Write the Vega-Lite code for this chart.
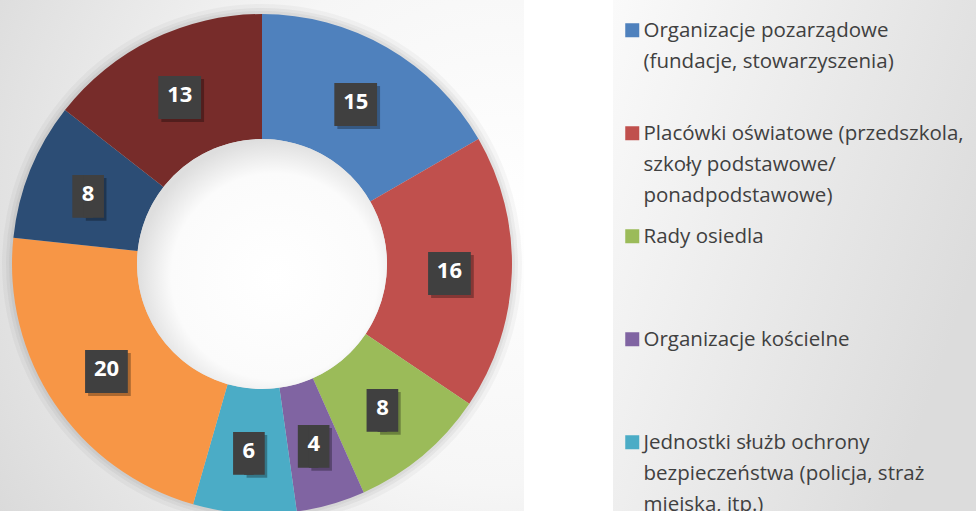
{
  "$schema": "https://vega.github.io/schema/vega-lite/v6.json",
  "padding": 0,
  "background": "white",
  "spacing": 89,
  "config": {
    "view": {"stroke": null},
    "style": {"guide-label": {"lineHeight": 31, "dy": -9}}
  },
  "data": {
    "values": [
      {"kategoria": "Organizacje pozarządowe (fundacje, stowarzyszenia)", "liczba": 15, "kolejnosc": 1},
      {"kategoria": "Placówki oświatowe (przedszkola, szkoły podstawowe/ponadpodstawowe)", "liczba": 16, "kolejnosc": 2},
      {"kategoria": "Rady osiedla", "liczba": 8, "kolejnosc": 3},
      {"kategoria": "Organizacje kościelne", "liczba": 4, "kolejnosc": 4},
      {"kategoria": "Jednostki służb ochrony bezpieczeństwa (policja, straż miejska, itp.)", "liczba": 6, "kolejnosc": 5},
      {"kategoria": "Instytucje kultury", "liczba": 20, "kolejnosc": 6},
      {"kategoria": "Przedsiębiorcy", "liczba": 8, "kolejnosc": 7},
      {"kategoria": "Inne", "liczba": 13, "kolejnosc": 8}
    ]
  },
  "resolve": {"scale": {"color": "shared"}, "legend": {"color": "shared"}},
  "hconcat": [
    {
      "width": 524,
      "height": 528,
      "layer": [
        {
          "data": {"values": [{}]},
          "mark": {
            "type": "rect",
            "fill": {"gradient": "radial", "x1": 0.95, "y1": 0.4, "x2": 0.95, "y2": 0.4, "r1": 0, "r2": 1.15,
              "stops": [{"offset": 0, "color": "#ffffff"}, {"offset": 0.45, "color": "#f6f6f6"}, {"offset": 1, "color": "#d8d8d8"}]}
          }
        },
        {
          "data": {"values": [{}]},
          "mark": {"type": "arc", "outerRadius": 260, "innerRadius": 0, "fill": "#000000", "opacity": 0.03}
        },
        {
          "data": {"values": [{}]},
          "mark": {"type": "arc", "outerRadius": 256, "innerRadius": 0, "fill": "#000000", "opacity": 0.04}
        },
        {
          "data": {"values": [{}]},
          "mark": {"type": "arc", "outerRadius": 253, "innerRadius": 0, "fill": "#000000", "opacity": 0.04}
        },
        {
          "mark": {"type": "arc", "outerRadius": 250, "innerRadius": 125, "stroke": null},
          "encoding": {
            "theta": {"field": "liczba", "type": "quantitative", "stack": true},
            "order": {"field": "kolejnosc", "type": "quantitative"},
            "color": {
              "field": "kategoria", "type": "nominal", "sort": null,
              "scale": {
                "domain": [
                  "Organizacje pozarządowe (fundacje, stowarzyszenia)",
                  "Placówki oświatowe (przedszkola, szkoły podstawowe/ponadpodstawowe)",
                  "Rady osiedla",
                  "Organizacje kościelne",
                  "Jednostki służb ochrony bezpieczeństwa (policja, straż miejska, itp.)",
                  "Instytucje kultury",
                  "Przedsiębiorcy",
                  "Inne"
                ],
                "range": ["#4F81BD", "#C0504D", "#9BBB59", "#8064A2", "#4BACC6", "#F79646", "#2C4D75", "#772C2A"]
              },
              "legend": {
                "title": null,
                "orient": "none",
                "legendX": 610,
                "legendY": 8,
                "padding": 12,
                "symbolType": "square",
                "symbolSize": 196,
                "symbolStrokeWidth": 0,
                "labelFont": "Open Sans",
                "labelFontSize": 20.5,
                "labelColor": "#404040",
                "labelOffset": 1,
                "labelLimit": 500,
                "labelBaseline": "top",
                "gridAlign": "all",
                "rowPadding": 19,
                "labelExpr": "datum.label == 'Organizacje pozarządowe (fundacje, stowarzyszenia)' ? ['Organizacje pozarządowe', '(fundacje, stowarzyszenia)'] : datum.label == 'Placówki oświatowe (przedszkola, szkoły podstawowe/ponadpodstawowe)' ? ['Placówki oświatowe (przedszkola,', 'szkoły podstawowe/', 'ponadpodstawowe)'] : datum.label == 'Jednostki służb ochrony bezpieczeństwa (policja, straż miejska, itp.)' ? ['Jednostki służb ochrony', 'bezpieczeństwa (policja, straż', 'miejska, itp.)'] : datum.label"
              }
            }
          }
        },
        {
          "data": {"values": [{}]},
          "mark": {"type": "arc", "outerRadius": 125, "innerRadius": 0,
            "fill": {"gradient": "radial", "x1": 0.55, "y1": 0.55, "x2": 0.55, "y2": 0.55, "r1": 0, "r2": 0.55,
              "stops": [{"offset": 0, "color": "#ffffff"}, {"offset": 0.75, "color": "#fbfbfb"}, {"offset": 1, "color": "#dedede"}]}}
        },
        {
          "mark": {"type": "text", "radius": 187.5, "font": "DejaVu Sans", "fontSize": 56, "color": "#000000", "opacity": 0.3, "dx": 3, "dy": 3},
          "encoding": {
            "theta": {"field": "liczba", "type": "quantitative", "stack": true},
            "order": {"field": "kolejnosc", "type": "quantitative"},
            "text": {"condition": {"test": "datum.liczba >= 10", "value": "■"}, "value": ""}
          }
        },
        {
          "mark": {"type": "text", "radius": 187.5, "font": "DejaVu Sans", "fontSize": 56, "color": "#000000", "opacity": 0.3, "dx": 8, "dy": 3},
          "encoding": {
            "theta": {"field": "liczba", "type": "quantitative", "stack": true},
            "order": {"field": "kolejnosc", "type": "quantitative"},
            "text": {"condition": {"test": "datum.liczba >= 10", "value": ""}, "value": "▮"}
          }
        },
        {
          "mark": {"type": "text", "radius": 187.5, "font": "DejaVu Sans", "fontSize": 56, "color": "#404040"},
          "encoding": {
            "theta": {"field": "liczba", "type": "quantitative", "stack": true},
            "order": {"field": "kolejnosc", "type": "quantitative"},
            "text": {"condition": {"test": "datum.liczba >= 10", "value": "■"}, "value": ""}
          }
        },
        {
          "mark": {"type": "text", "radius": 187.5, "font": "DejaVu Sans", "fontSize": 56, "color": "#404040", "dx": -5.5},
          "encoding": {
            "theta": {"field": "liczba", "type": "quantitative", "stack": true},
            "order": {"field": "kolejnosc", "type": "quantitative"},
            "text": {"condition": {"test": "datum.liczba >= 10", "value": ""}, "value": "▮"}
          }
        },
        {
          "mark": {"type": "text", "radius": 187.5, "font": "DejaVu Sans", "fontSize": 56, "color": "#404040", "dx": 5.5},
          "encoding": {
            "theta": {"field": "liczba", "type": "quantitative", "stack": true},
            "order": {"field": "kolejnosc", "type": "quantitative"},
            "text": {"condition": {"test": "datum.liczba >= 10", "value": ""}, "value": "▮"}
          }
        },
        {
          "mark": {"type": "text", "radius": 187.5, "font": "Open Sans", "fontSize": 22, "fontWeight": "bold", "color": "#ffffff"},
          "encoding": {
            "theta": {"field": "liczba", "type": "quantitative", "stack": true},
            "order": {"field": "kolejnosc", "type": "quantitative"},
            "text": {"field": "liczba", "type": "quantitative"}
          }
        }
      ]
    },
    {
      "width": 363,
      "height": 528,
      "view": {"fill": {"gradient": "linear", "x1": 0, "y1": 0, "x2": 1, "y2": 0.5,
          "stops": [{"offset": 0, "color": "#fafafa"}, {"offset": 1, "color": "#dcdcdc"}]}},
      "data": {"values": [{"panel": 1}]},
      "mark": {
        "type": "rect",
        "fill": {"gradient": "linear", "x1": 0, "y1": 0, "x2": 1, "y2": 0.5,
          "stops": [{"offset": 0, "color": "#fafafa"}, {"offset": 1, "color": "#dcdcdc"}]}
      }
    }
  ]
}
